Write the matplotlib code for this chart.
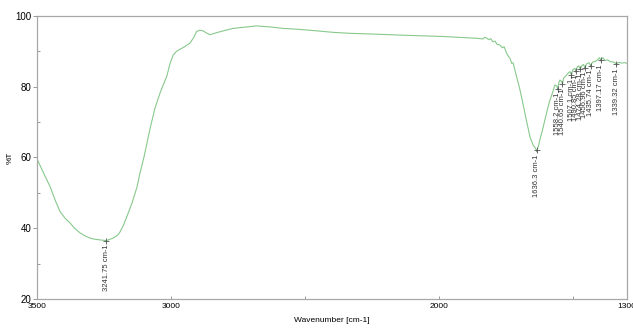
import matplotlib
matplotlib.use("Agg")
import matplotlib.pyplot as plt
from matplotlib.ticker import FixedLocator

plt.rcParams["font.family"] = ["Liberation Sans", "DejaVu Sans"]

# spectrum (wavenumber in cm-1, transmittance in %)
wavenumber = [
    3500, 3475, 3451, 3430, 3414, 3395, 3377, 3360, 3340, 3320, 3302, 3285,
    3265, 3241.75, 3217, 3200, 3191, 3178, 3165, 3146, 3127, 3116, 3100, 3079,
    3060, 3040, 3016, 3005, 2992, 2980, 2967, 2950, 2930, 2915, 2905, 2893,
    2881, 2868, 2855, 2830, 2800, 2768, 2720, 2681, 2630, 2583, 2520, 2457,
    2400, 2333, 2250, 2147, 2060, 1986, 1910, 1860, 1837, 1830, 1823, 1815,
    1808, 1800, 1792, 1785, 1774, 1765, 1758, 1749, 1742, 1736, 1730, 1725,
    1718, 1712, 1699, 1690, 1681, 1672, 1662, 1650, 1643, 1636.3, 1630, 1625,
    1615, 1606, 1597, 1587, 1578, 1569, 1562, 1558.2, 1554, 1550, 1544,
    1540.65, 1536, 1531, 1522, 1513, 1507.1, 1502, 1494, 1490.85, 1485, 1480,
    1474.28, 1468, 1462, 1456.96, 1450, 1442, 1435.74, 1428, 1419, 1410, 1403,
    1397.17, 1390, 1382, 1372, 1363, 1352, 1345, 1339.32, 1332, 1320, 1307,
    1300,
]
transmittance = [
    59.6, 55.5, 51.7, 47.5, 44.7, 42.8, 41.5, 40.0, 38.7, 37.8, 37.2, 36.9,
    36.7, 36.5, 37.2, 38.0, 38.9, 40.8, 43.3, 47.1, 51.7, 55.6, 60.5, 68.0,
    74.0, 78.5, 83.0, 86.3, 89.0, 90.0, 90.6, 91.3, 92.3, 94.0, 95.6, 96.0,
    95.8, 95.2, 94.7, 95.3, 95.9, 96.5, 96.9, 97.2, 96.9, 96.5, 96.2, 95.8,
    95.4, 95.1, 94.9, 94.6, 94.4, 94.2, 93.9, 93.7, 93.5, 94.0, 93.7, 93.3,
    93.6, 92.7, 92.9, 92.0, 91.8, 91.0, 91.3, 89.5, 88.6, 88.0, 86.6, 86.8,
    84.7, 82.8, 79.1, 76.0, 72.6, 69.4, 65.9, 63.5, 62.8, 62.0, 63.2, 65.0,
    67.8, 70.6, 73.5, 76.3, 78.2, 80.5, 80.2, 79.5, 81.2, 81.9, 81.5,
    80.8, 82.5, 82.8, 83.6, 84.3, 83.3, 84.8, 85.2, 84.5, 85.6, 85.9,
    85.0, 86.0, 86.3, 85.4, 86.5, 86.8, 86.0, 87.0, 87.1, 87.6, 88.2,
    87.6, 88.2, 87.4, 87.6, 87.1, 87.0, 86.8, 86.3, 86.9, 86.7, 86.8,
    86.6,
]

# labelled peaks
peak_wn = [3241.75, 1636.3, 1558.2, 1540.65, 1507.1, 1490.85, 1474.28,
           1456.96, 1435.74, 1397.17, 1339.32]
peak_text = ["3241.75 cm-1", "1636.3 cm-1", "1558.2 cm-1", "1540.65 cm-1",
             "1507.1 cm-1", "1490.85 cm-1", "1474.28 cm-1", "1456.96 cm-1",
             "1435.74 cm-1", "1397.17 cm-1", "1339.32 cm-1"]

x_major = [3500, 3000, 2000, 1300]
x_minor = [2500, 1500]
y_major = [20, 40, 60, 80, 100]
y_minor = [30, 50, 70, 90]

line_color = "#88c98c"
axis_color = "#a8a8a8"

fig = plt.figure(figsize=(6.33, 3.29), dpi=100)
ax = fig.add_axes([0.0585, 0.0912, 0.932, 0.8602])

ax.plot(wavenumber, transmittance, color=line_color, linewidth=0.8)

lookup = dict(zip(wavenumber, transmittance))
for wn, txt in zip(peak_wn, peak_text):
    t = lookup[wn]
    ax.plot([wn], [t], marker="+", markersize=4, color="#555555",
            markeredgewidth=0.6)
    ax.annotate(txt, xy=(wn, t), xytext=(0, -3), textcoords="offset points",
                rotation=90, ha="center", va="top", fontsize=5.5,
                color="#333333",
                arrowprops=dict(arrowstyle="-", color="#555555", lw=0.6,
                                shrinkA=0, shrinkB=0))

ax.set_xlim(3500, 1300)
ax.set_ylim(20, 100)

ax.xaxis.set_major_locator(FixedLocator(x_major))
ax.xaxis.set_minor_locator(FixedLocator(x_minor))
ax.yaxis.set_major_locator(FixedLocator(y_major))
ax.yaxis.set_minor_locator(FixedLocator(y_minor))

ax.tick_params(axis="x", which="both", direction="in", length=2, width=0.6,
               color="#888888", labelsize=6, pad=3)
ax.tick_params(axis="y", which="major", direction="out", length=3, width=0.6,
               color="#888888", labelsize=7, pad=1)
ax.tick_params(axis="y", which="minor", direction="in", length=2, width=0.6,
               color="#888888")

for spine in ax.spines.values():
    spine.set_color(axis_color)
    spine.set_linewidth(0.9)

ax.set_xlabel("Wavenumber [cm-1]", fontsize=6, labelpad=5)
ax.set_ylabel("%T", fontsize=6)
ax.yaxis.set_label_coords(-0.04, 0.5)

fig.savefig("out.png", dpi=100)
